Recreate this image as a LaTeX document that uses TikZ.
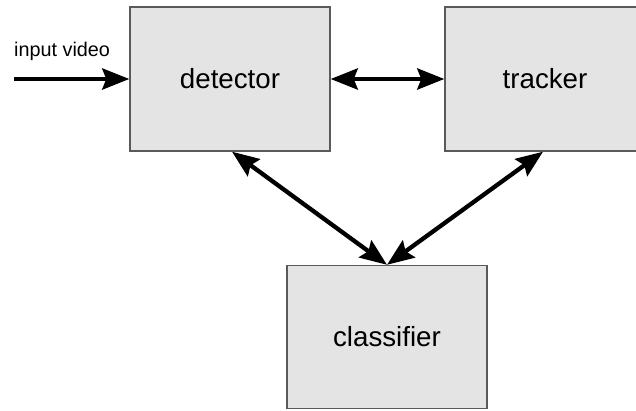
\documentclass[tikz,border=0pt]{standalone}
\usepackage{fontspec}
\setmainfont{Liberation Sans}
\usetikzlibrary{arrows.meta}
\definecolor{boxfill}{HTML}{E4E4E4}
\definecolor{boxline}{HTML}{5A5A5A}
\tikzset{
  block/.style={draw=boxline, line width=1.4pt, fill=boxfill, minimum width=200pt, minimum height=144pt, inner sep=0pt, font=\fontsize{27.7}{32}\selectfont},
  tip/.tip={Stealth[length=27pt,width=21pt,inset=4pt]},
  conn/.style={line width=4.3pt, -tip},
  biconn/.style={line width=4.3pt, tip-tip},
  lbl/.style={font=\fontsize{19.8}{23}\selectfont, inner sep=0pt}
}
\begin{document}
\begin{tikzpicture}[x=1pt,y=-1pt]
\useasboundingbox (0,0) rectangle (636,410);
\clip (0,0) rectangle (636,410);
\fill[white] (0,0) rectangle (636,410);
\node[block] (detector) at (230,79) {detector};
\node[block] (tracker) at (545,79) {tracker};
\node[block, minimum height=143pt] (classifier) at (387,337) {classifier};
\coordinate (in) at (14,79);
\node[lbl, anchor=west] (inlbl) at (14,51) {input video};
\draw[conn] (in) -- (detector.west);
\draw[biconn] (detector.east) -- (tracker.west);
\draw[biconn] ([xshift=2pt]detector.south) -- (classifier.north);
\draw[biconn] ([xshift=-2pt]tracker.south) -- (classifier.north);
\end{tikzpicture}
\end{document}
